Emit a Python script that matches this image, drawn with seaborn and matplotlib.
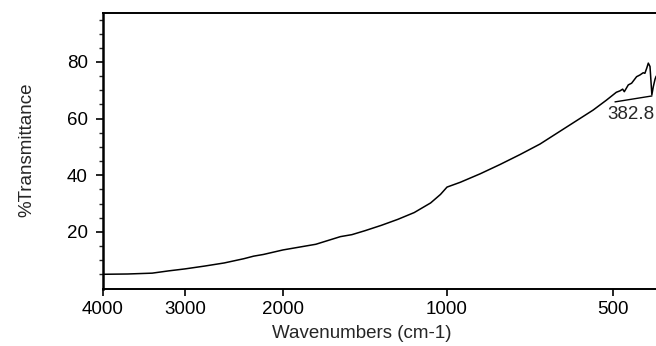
"""
Espectro IR - %Transmittance vs Wavenumbers
"""

import numpy as np
import pandas as pd
import seaborn as sns
import matplotlib
matplotlib.use('Agg')
import matplotlib.pyplot as plt
from matplotlib.ticker import FixedLocator

# dados
wavenumber = [4000, 3700, 3400, 3200, 3000, 2800, 2600, 2400, 2300, 2200,
              2000, 1800, 1650, 1580, 1500, 1400, 1300, 1200, 1100, 1040,
              1000, 960, 900, 840, 780, 720, 660, 600, 560, 520,
              490, 479, 471, 466, 454, 444, 429, 419, 409, 404,
              398.5, 393.7, 388.6, 383, 378.6, 373.5, 370]
transmittance = [5.0, 5.1, 5.4, 6.2, 6.9, 7.9, 9.0, 10.5, 11.4, 12.0,
                 13.6, 15.6, 18.3, 19.0, 20.4, 22.3, 24.4, 26.8, 30.2, 33.2,
                 35.8, 37.5, 40.5, 43.8, 47.3, 51.0, 55.5, 60.0, 63.0, 66.5,
                 69.3, 69.8, 70.4, 69.5, 71.9, 72.5, 74.8, 75.4, 76.2, 76.0,
                 77.8, 79.6, 78.4, 68.4, 71.3, 73.9, 75.0]
x_ticks = [4000, 3000, 2000, 1000, 500]
y_ticks = [20, 40, 60, 80]
peak_label = '382.8'
peak_wn = 382.8

df = pd.DataFrame({'wn': wavenumber, 'T': transmittance})

# escala do eixo x (expandida abaixo de 2000)
wn_anchor = np.array([0, 500, 1000, 2000, 3000, 4000, 6000])
u_anchor = -np.array([779, 613, 447, 283, 185, 103, -61])

def fwd(x):
    return np.interp(x, wn_anchor, u_anchor)

def inv(u):
    return np.interp(u, u_anchor, wn_anchor)

sns.set_style('ticks')
plt.rcParams['font.family'] = ['Liberation Sans', 'DejaVu Sans']
fs = 13.5

fig = plt.figure(figsize=(6.56, 3.46), dpi=100)
ax = fig.add_axes([103 / 656, 57 / 346, 556.5 / 656, 276 / 346])

sns.lineplot(data=df, x='wn', y='T', ax=ax, color='black', linewidth=1.1)

ax.set_xscale('function', functions=(fwd, inv))
ax.set_xlim(4000, 360)
ax.set_ylim(-0.2, 97.3)

ax.xaxis.set_major_locator(FixedLocator(x_ticks))
ax.set_xticklabels([str(t) for t in x_ticks])
ax.xaxis.set_minor_locator(FixedLocator([]))
ax.yaxis.set_major_locator(FixedLocator(y_ticks))
ax.yaxis.set_minor_locator(FixedLocator(list(range(5, 100, 5))))

ax.tick_params(axis='both', which='major', direction='out', length=5,
               width=1.2, colors='black', labelsize=fs)
ax.tick_params(axis='y', which='major', pad=6)
ax.tick_params(axis='y', which='minor', direction='out', length=3, width=1)

for s in ax.spines.values():
    s.set_color('black')
    s.set_linewidth(1.4)
ax.spines['left'].set_linewidth(1.8)

ax.set_xlabel('Wavenumbers (cm-1)', fontsize=fs)
ax.set_ylabel('%Transmittance', fontsize=fs)
ax.xaxis.set_label_coords((362 - 103) / 556.5, (289 - 325) / 276)
ax.yaxis.set_label_coords((35 - 103) / 556.5, (289 - 150) / 276)

# marcador do pico
ax.plot([494, peak_wn], [65.9, 68.0], color='black', linewidth=1)
ax.text(518, 64.5, peak_label, fontsize=fs, ha='left', va='top')

fig.savefig('out.png', dpi=100)
